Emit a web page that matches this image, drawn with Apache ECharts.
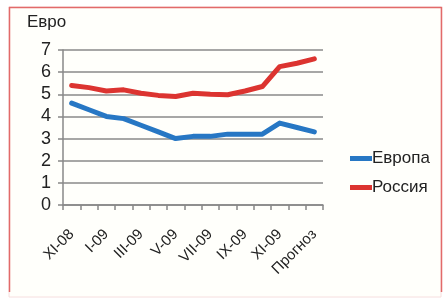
<!DOCTYPE html>
<html>
<head>
<meta charset="utf-8">
<script src="https://cdn.jsdelivr.net/npm/echarts@6/dist/echarts.min.js"></script>
<style>
    html, body { margin: 0; padding: 0; background: #fff; }
    #chart { width: 443px; height: 299px; }
</style>
</head>
<body>
<div id="chart"></div>
<script>
    // категории по месяцам, подписи только через одну
    const months = ['XI-08', 'XII-08', 'I-09', 'II-09', 'III-09', 'IV-09', 'V-09', 'VI-09',
        'VII-09', 'VIII-09', 'IX-09', 'X-09', 'XI-09', 'XII-09', 'Прогноз']
    const europe = [4.6, 4.3, 4.0, 3.9, 3.6, 3.3, 3.0, 3.1, 3.1, 3.2, 3.2, 3.2, 3.7, 3.5, 3.3]
    const russia = [5.4, 5.3, 5.15, 5.2, 5.05, 4.95, 4.9, 5.05, 5.0, 4.98, 5.15, 5.35, 6.25, 6.4, 6.6]
    const yTicks = [0, 1, 2, 3, 4, 5, 6, 7]

    const chart = echarts.init(document.getElementById('chart'))
    const font = 'Liberation Sans, Arial, sans-serif'

    const option = {
        animation: false,
        textStyle: { fontFamily: font },
        graphic: [
            //фон и рамка
            {
                type: 'rect',
                z: -10,
                shape: { x: 9, y: 7, width: 432, height: 290 },
                style: { fill: '#fffffb', stroke: '#f6dede', lineWidth: 1 }
            },
            {
                type: 'polyline',
                z: -5,
                shape: { points: [[9.5, 292], [9.5, 7.5], [441.5, 7.5], [441.5, 292]] },
                style: { fill: null, stroke: '#e26a6a', lineWidth: 1.5 }
            },
            {
                type: 'text',
                left: 27,
                top: 14,
                style: { text: 'Евро', fontSize: 17, fill: '#222', fontFamily: font }
            }
        ],
        grid: { left: 63, right: 120, top: 50, bottom: 94 },
        legend: {
            orient: 'vertical',
            left: 345,
            top: 145,
            itemWidth: 22,
            itemHeight: 5,
            itemGap: 12,
            icon: 'rect',
            textStyle: { fontSize: 17, color: '#222', fontFamily: font, padding: [0, 0, 0, -5] },
            data: ['Европа', 'Россия']
        },
        xAxis: {
            type: 'category',
            data: months,
            boundaryGap: true,
            axisLine: { lineStyle: { color: '#888', width: 1.5 } },
            axisTick: { show: true, interval: 0, length: 5, lineStyle: { color: '#888', width: 1.5 } },
            axisLabel: { interval: 1, rotate: 45, fontSize: 15, color: '#222', margin: 27 }
        },
        yAxis: {
            type: 'value',
            min: yTicks[0],
            max: yTicks[yTicks.length - 1],
            interval: 1,
            axisLine: { show: true, lineStyle: { color: '#888', width: 1.5 } },
            axisTick: { show: true, length: 5, lineStyle: { color: '#888', width: 1.5 } },
            axisLabel: { fontSize: 18, color: '#222', margin: 12 },
            splitLine: { lineStyle: { color: '#8a8a8a', width: 1.5 } }
        },
        series: [
            {
                name: 'Европа',
                type: 'line',
                data: europe,
                symbol: 'none',
                color: '#2777c4',
                lineStyle: { width: 5, cap: 'round', join: 'round' }
            },
            {
                name: 'Россия',
                type: 'line',
                data: russia,
                symbol: 'none',
                color: '#dc3430',
                lineStyle: { width: 5, cap: 'round', join: 'round' }
            }
        ]
    }
    chart.setOption(option)
</script>
</body>
</html>
